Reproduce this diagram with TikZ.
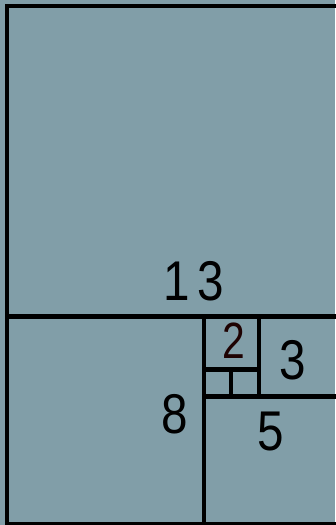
\documentclass[tikz,border=0pt]{standalone}
\usepackage{fontspec}
\setmainfont{Liberation Sans}
\definecolor{bgc}{RGB}{129,158,168}
\definecolor{twoc}{RGB}{30,2,2}
\tikzset{
  edge/.style={line width=4.5pt, line cap=rect, black},
  num/.style={inner sep=0pt, font=\fontsize{56}{56}\selectfont},
  smallnum/.style={inner sep=0pt, font=\fontsize{51}{51}\selectfont, text=twoc}
}
\begin{document}
\begin{tikzpicture}[x=1pt,y=-1pt]
\useasboundingbox (0,0) rectangle (335,525);
\fill[bgc] (0,0) rectangle (335,525);
% outer frame
\draw[edge] (340,6) -- (7,6) -- (7,530);
\draw[edge] (7,524.5) -- (340,524.5);
% divisions
\draw[edge] (7,316.5) -- (340,316.5);
\draw[edge] (204,316.5) -- (204,524.5);
\draw[edge] (259,316.5) -- (259,396.5);
\draw[edge] (204,369.5) -- (259,369.5);
\draw[edge] (231,369.5) -- (231,396.5);
\draw[edge] (204,396.5) -- (340,396.5);
% labels
\node[num] (n1) at (176.5,281) {\scalebox{0.85}[1]{1}};
\node[num] (n13) at (211,281) {\scalebox{0.85}[1]{3}};
\node[smallnum] (n2) at (233.5,341) {\scalebox{0.8}[1]{2}};
\node[num] (n3) at (293,360.5) {\scalebox{0.85}[1]{3}};
\node[num] (n8) at (174.5,414) {\scalebox{0.85}[1]{8}};
\node[num] (n5) at (270.5,432) {\scalebox{0.85}[1]{5}};
\end{tikzpicture}
\end{document}
